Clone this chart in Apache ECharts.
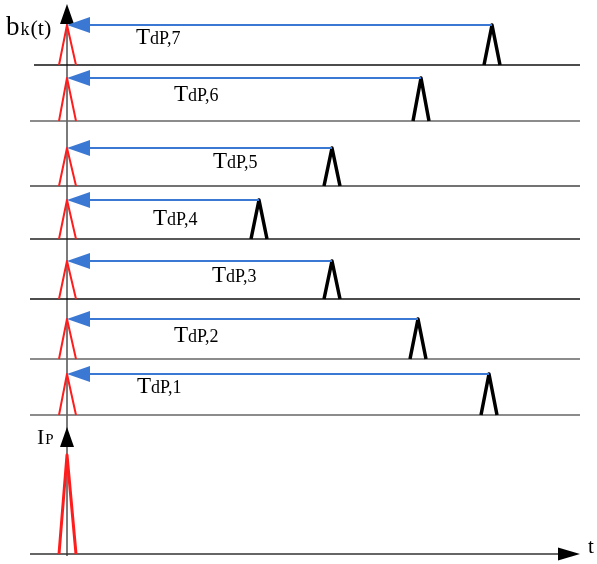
<!DOCTYPE html>
<html>
<head>
<meta charset="utf-8">
<script src="https://cdn.jsdelivr.net/npm/echarts@6.0.0/dist/echarts.min.js"></script>
<style>
  html, body { margin: 0; padding: 0; background: #fff; }
  #chart { width: 597px; height: 564px; }
</style>
</head>
<body>
<div id="chart"></div>
<script>
// Channel index k, bottom row first
const channels = [1, 2, 3, 4, 5, 6, 7];
// Delay T_dP,k of each received pulse after the emitted pulse (time units)
const delays = [422, 351, 265, 192, 265, 354, 425];
// Baseline level of each channel row, above the time axis
const baselines = [139, 195, 255, 315, 368, 433, 489];
// Pulse amplitude in each row
const amplitudes = [41, 40, 38, 39, 38, 43, 40];
// Emitted pulse I_P at t = 0
const emittedAmplitude = 99;

// Axis extents (time units / level units)
const tMin = -67, tMax = 530;
const yMin = -10, yMax = 554;

// Layout of the drawing
const rowStart = [-37, -37, -37, -37, -37, -37, -33];   // left end of each row baseline
const rowEnd = 513;
const rowStroke = ['#666', '#666', '#111', '#222', '#444', '#666', '#111'];
const labelLeft = [70, 107, 145, 86, 146, 107, 69];   // T_dP,k label offset along t
const labelDrop = [19, 23, 21, 25, 20, 23, 19];       // label baseline below the arrow (px)
const serif = '"Liberation Serif", "DejaVu Serif", serif';
const BLUE = '#3a78d4', RED = '#ff1c1c';

const rowData = channels.map((k, i) => [delays[i], baselines[i], amplitudes[i], k]);

function renderRow(params, api) {
  const i = params.dataIndex;
  const d = api.value(0), base = api.value(1), amp = api.value(2), k = api.value(3);
  const top = base + amp;
  const c = (x, y) => api.coord([x, y]);
  const a = c(rowStart[i], base), b = c(rowEnd, base);
  const tip = c(0, top);
  const peak = c(d, top);
  const lp = c(labelLeft[i], top);
  return {
    type: 'group',
    children: [
      { type: 'line', shape: { x1: a[0], y1: a[1], x2: b[0], y2: b[1] },
        style: { stroke: rowStroke[i], lineWidth: 1.4 } },
      { type: 'polyline', shape: { points: [c(-8, base), tip, c(9, base)] },
        style: { stroke: RED, lineWidth: 2, fill: null, lineJoin: 'round' } },
      { type: 'polyline', shape: { points: [c(d - 8, base), peak, c(d + 8, base)] },
        style: { stroke: '#000', lineWidth: 3.5, fill: null, lineJoin: 'round' } },
      { type: 'line', shape: { x1: peak[0], y1: peak[1], x2: tip[0] + 20, y2: tip[1] },
        style: { stroke: BLUE, lineWidth: 2.2 } },
      { type: 'polygon', shape: { points: [[tip[0], tip[1]], [tip[0] + 23, tip[1] - 8], [tip[0] + 23, tip[1] + 8]] },
        style: { fill: BLUE } },
      { type: 'text',
        style: {
          x: lp[0], y: lp[1] + labelDrop[i] + 5,
          text: '{T|T}{s|dP,' + k + '}',
          align: 'left', verticalAlign: 'bottom',
          rich: {
            T: { fontSize: 23, fontFamily: serif, fill: '#000', verticalAlign: 'bottom' },
            s: { fontSize: 18, fontFamily: serif, fill: '#000', verticalAlign: 'bottom', padding: [0, 0, 1, 0] }
          }
        } }
    ]
  };
}

function renderAxes(params, api) {
  const c = (x, y) => api.coord([x, y]);
  const bottomL = c(-37, 0), bottomR = c(rowEnd, 0);
  const vBottom = c(0, -2), vTop = c(0, 550);
  const ipTip = c(0, 127);
  return {
    type: 'group',
    children: [
      // vertical level axis
      { type: 'line', shape: { x1: vBottom[0], y1: vBottom[1], x2: vTop[0], y2: vTop[1] + 8 },
        style: { stroke: '#7a7a7a', lineWidth: 2 } },
      { type: 'polygon', shape: { points: [[vTop[0], vTop[1]], [vTop[0] - 7, vTop[1] + 20], [vTop[0] + 7, vTop[1] + 20]] },
        style: { fill: '#000' } },
      // time axis
      { type: 'line', shape: { x1: bottomL[0], y1: bottomL[1], x2: bottomR[0] - 10, y2: bottomR[1] },
        style: { stroke: '#333', lineWidth: 1.5 } },
      { type: 'polygon', shape: { points: [[bottomR[0], bottomR[1]], [bottomR[0] - 22, bottomR[1] - 6.5], [bottomR[0] - 22, bottomR[1] + 6.5]] },
        style: { fill: '#000' } },
      // I_P axis arrow
      { type: 'polygon', shape: { points: [[ipTip[0], ipTip[1]], [ipTip[0] - 7, ipTip[1] + 20], [ipTip[0] + 7, ipTip[1] + 20]] },
        style: { fill: '#000' } }
    ]
  };
}

function renderEmitted(params, api) {
  const c = (x, y) => api.coord([x, y]);
  const amp = api.value(1);
  return {
    type: 'polyline',
    shape: { points: [c(-8, 0), c(0, amp), c(9, 0)] },
    style: { stroke: RED, lineWidth: 3, fill: null, lineJoin: 'round' }
  };
}

const chart = echarts.init(document.getElementById('chart'), null, { renderer: 'canvas' });
chart.setOption({
  animation: false,
  backgroundColor: '#fff',
  grid: { left: 0, right: 0, top: 0, bottom: 0 },
  xAxis: { type: 'value', min: tMin, max: tMax, show: false },
  yAxis: { type: 'value', min: yMin, max: yMax, show: false },
  series: [
    { type: 'custom', clip: false, renderItem: renderRow, data: rowData, z: 2 },
    { type: 'custom', clip: false, renderItem: renderAxes, data: [[0, 0]], z: 1 },
    { type: 'custom', clip: false, renderItem: renderEmitted, data: [[0, emittedAmplitude]], z: 3 }
  ],
  graphic: [
    { type: 'text', left: 6, top: 14,
      style: { text: '{b|b}{k|k}{t|(t)}', rich: {
        b: { fontSize: 27, fontFamily: serif, fill: '#000', verticalAlign: 'bottom' },
        k: { fontSize: 18, fontFamily: serif, fill: '#000', verticalAlign: 'bottom', padding: [0, 1, 2, 1] },
        t: { fontSize: 22, fontFamily: serif, fill: '#000', verticalAlign: 'bottom', padding: [0, 0, 1, 0] } } } },
    { type: 'text', left: 37, top: 427,
      style: { text: '{I|I}{p|P}', rich: {
        I: { fontSize: 22, fontFamily: serif, fill: '#000', verticalAlign: 'bottom' },
        p: { fontSize: 15, fontFamily: serif, fill: '#000', verticalAlign: 'bottom', padding: [0, 0, 1, 1] } } } },
    { type: 'text', left: 588, top: 537,
      style: { text: 't', fontSize: 21, fontFamily: serif, fill: '#000' } }
  ]
});
</script>
</body>
</html>
